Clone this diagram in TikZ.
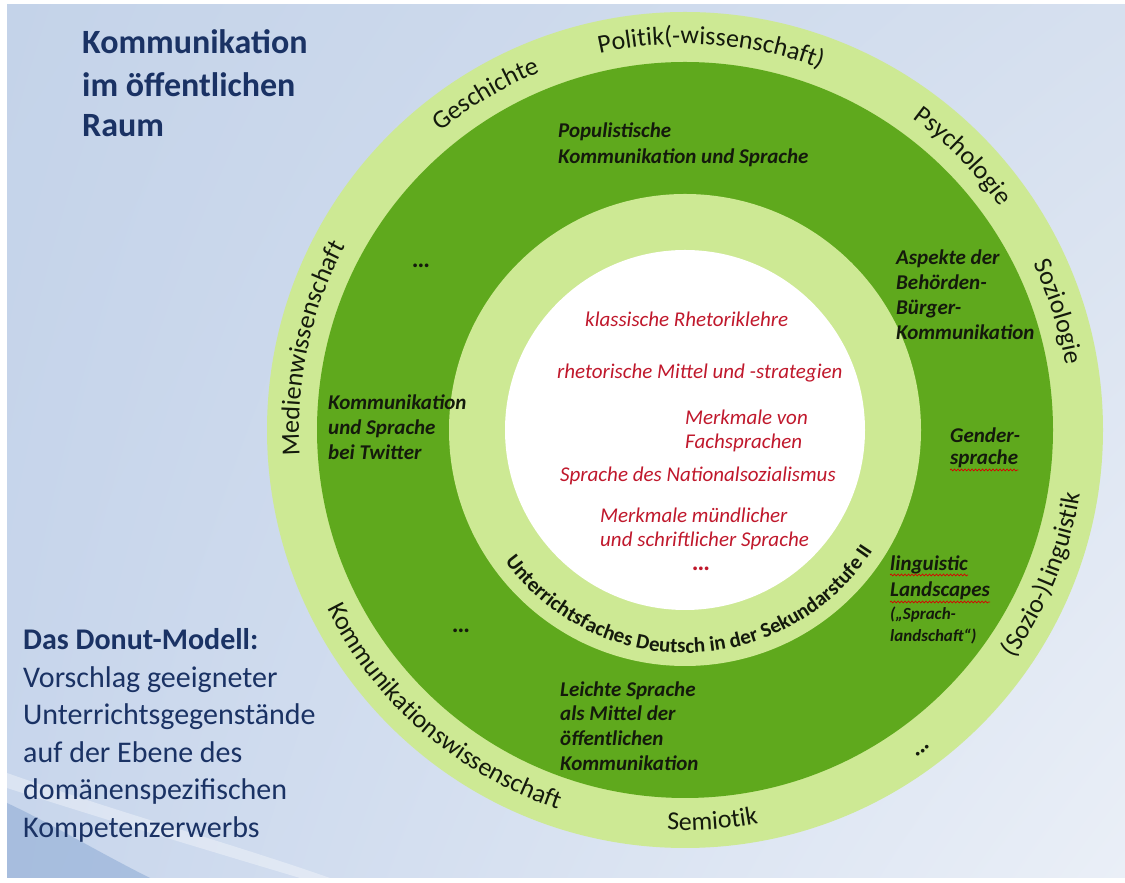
\documentclass[tikz,border=0pt]{standalone}
\usepackage{fontspec}
\setmainfont{Carlito}
\usetikzlibrary{decorations.text,decorations.pathmorphing,shadings}
\definecolor{bgUL}{RGB}{196,211,233}
\definecolor{bgUR}{RGB}{214,224,239}
\definecolor{bgLL}{RGB}{200,214,236}
\definecolor{bgLR}{RGB}{234,239,247}
\definecolor{swoosh}{RGB}{140,170,212}
\definecolor{lgreen}{RGB}{205,233,148}
\definecolor{dgreen}{RGB}{95,169,29}
\definecolor{navy}{RGB}{26,50,100}
\definecolor{redtxt}{RGB}{192,24,44}
\definecolor{ink}{RGB}{20,26,12}
\newcommand\ofont{\fontsize{26}{30}\selectfont\color{ink}}
\newcommand\ifont{\fontsize{21}{25}\selectfont\bfseries\color{ink}}
\newcommand\cwlabel[2]{%
  \pgfmathsetmacro\myA{#1+45}\pgfmathsetmacro\myB{#1-45}%
  \path[decorate,decoration={text along path,text align=center,text={|\ofont|#2}}]
    (\myA:386) arc[start angle=\myA,end angle=\myB,radius=386];}
\newcommand\ccwlabel[2]{%
  \pgfmathsetmacro\myA{#1-70}\pgfmathsetmacro\myB{#1+70}%
  \path[decorate,decoration={text along path,text align=center,text={|\ofont|#2}}]
    (\myA:400) arc[start angle=\myA,end angle=\myB,radius=400];}
\begin{document}
\begin{tikzpicture}[x=1pt,y=1pt,
  dk/.style={font=\fontsize{21}{25}\selectfont\bfseries\itshape, text=ink, inner sep=0pt, anchor=base west},
  dks/.style={font=\fontsize{17}{20}\selectfont\bfseries\itshape, text=ink, inner sep=0pt, anchor=base west},
  rd/.style={font=\fontsize{21}{25}\selectfont\itshape, text=redtxt, inner sep=0pt, anchor=base west},
  ttl/.style={font=\fontsize{34}{42}\selectfont\bfseries, text=navy, inner sep=0pt, anchor=base west},
  bl/.style={font=\fontsize{30}{37}\selectfont, text=navy, inner sep=0pt, anchor=base west},
  dots/.style={font=\fontsize{25}{28}\selectfont\bfseries, text=ink, inner sep=0pt},
  squig/.style={draw=red!85!black, line width=0.7pt, decorate, decoration={snake, amplitude=0.9pt, segment length=3.5pt}}
]
\useasboundingbox (0,0) rectangle (1125,883);
\fill[white] (0,0) rectangle (1125,883);
\shade[upper left=bgUL, upper right=bgUR, lower left=bgLL, lower right=bgLR] (7,5) rectangle (1125,878);
\fill[swoosh, opacity=0.55] (7,5) -- (7,80) .. controls (50,60) and (100,30) .. (150,5) -- cycle;
\fill[white, opacity=0.35] (7,110) .. controls (120,70) and (230,40) .. (330,5) -- (300,5) .. controls (200,35) and (100,65) .. (7,95) -- cycle;

% donut
\coordinate (C) at (685,453);
\fill[lgreen] (C) circle[radius=418];
\fill[dgreen] (C) circle[radius=368];
\fill[lgreen] (C) circle[radius=236];
\fill[white] (C) circle[radius=180];

% ring labels
\begin{scope}[shift={(685,453)}]
  \cwlabel{120.7}{Geschichte}
  \cwlabel{86.1}{Politik(-wissenschaft)}
  \cwlabel{44.6}{Psychologie}
  \cwlabel{17.6}{Soziologie}
  \cwlabel{167.7}{Medienwissenschaft}
  \ccwlabel{-22}{(Sozio-)Linguistik}
  \ccwlabel{-86}{Semiotik}
  \ccwlabel{229}{Kommunikationswissenschaft}
  \path[decorate,decoration={text along path,text align=center,text={|\ifont|Unterrichtsfaches Deutsch in der Sekundarstufe II}}]
    (186.7:223) arc[start angle=186.7,end angle=356.7,radius=223];
\end{scope}

% title and left text
\node[ttl] (t1) at (82,829) {Kommunikation};
\node[ttl] (t2) at (82,786) {im öffentlichen};
\node[ttl] (t3) at (82,746) {Raum};
\node[bl, font=\fontsize{30}{37}\selectfont\bfseries] (b1) at (23,233) {Das Donut-Modell:};
\node[bl] (b2) at (23,195) {Vorschlag geeigneter};
\node[bl] (b3) at (23,158) {Unterrichtsgegenstände};
\node[bl] (b4) at (23,120) {auf der Ebene des};
\node[bl] (b5) at (23,83) {domänenspezifischen};
\node[bl] (b6) at (23,45) {Kompetenzerwerbs};

% dark ring items
\node[dk] (p1) at (558,745) {Populistische};
\node[dk] (p2) at (558,719) {Kommunikation und Sprache};
\node[dk] (a1) at (896,618) {Aspekte der};
\node[dk] (a2) at (896,593) {Behörden-};
\node[dk] (a3) at (896,568) {Bürger-};
\node[dk] (a4) at (896,543) {Kommunikation};
\node[dk] (g1) at (950,440) {Gender-};
\node[dk] (g2) at (950,418) {sprache};
\node[dk] (k1) at (328,473) {Kommunikation};
\node[dk] (k2) at (328,448) {und Sprache};
\node[dk] (k3) at (328,423) {bei Twitter};
\node[dk] (l1) at (890,312) {linguistic};
\node[dk] (l2) at (890,286) {Landscapes};
\node[dks] (l3) at (890,263) {(„Sprach-};
\node[dks] (l4) at (890,241) {landschaft“)};
\node[dk] (e1) at (560,186) {Leichte Sprache};
\node[dk] (e2) at (560,162) {als Mittel der};
\node[dk] (e3) at (560,137) {öffentlichen};
\node[dk] (e4) at (560,112) {Kommunikation};
\node[dots] (d1) at (421,617) {.\kern-1pt.\kern-1pt.};
\node[dots] (d2) at (461,252) {.\kern-1pt.\kern-1pt.};
\node[dots, rotate=36.6] (d3) at (923,132) {.\kern-1pt.\kern-1pt.};

\draw[squig] ([yshift=-5pt]g2.base west) -- ([yshift=-5pt]g2.base east);
\draw[squig] ([yshift=-4pt]l1.base west) -- ([yshift=-4pt]l1.base east);
\draw[squig] ([yshift=-5pt]l2.base west) -- ([yshift=-5pt]l2.base east);

% red centre items
\node[rd] (r1) at (585,556) {klassische Rhetoriklehre};
\node[rd] (r2) at (557,504) {rhetorische Mittel und -strategien};
\node[rd] (r3) at (685,458) {Merkmale von};
\node[rd] (r4) at (685,434) {Fachsprachen};
\node[rd] (r5) at (560,401) {Sprache des Nationalsozialismus};
\node[rd] (r6) at (600,360) {Merkmale mündlicher};
\node[rd] (r7) at (600,336) {und schriftlicher Sprache};
\node[dots, text=redtxt] (r8) at (701,314) {.\kern-1pt.\kern-1pt.};
\end{tikzpicture}
\end{document}
